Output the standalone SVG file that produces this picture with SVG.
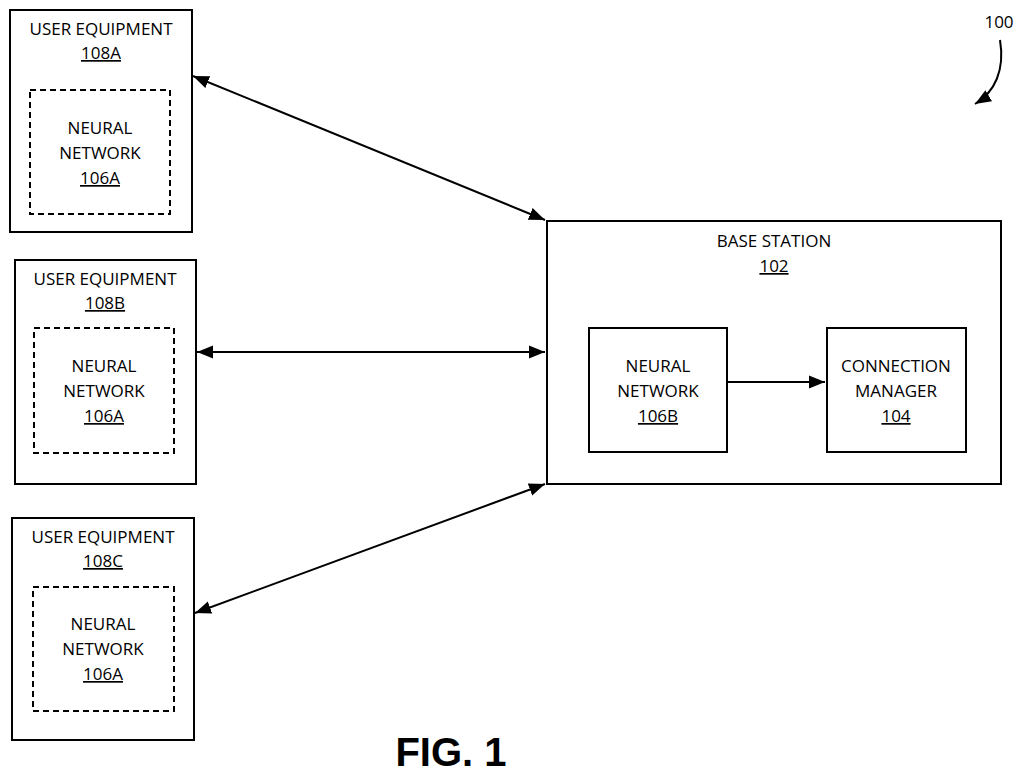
<svg xmlns="http://www.w3.org/2000/svg" width="1024" height="776" viewBox="0 0 1024 776">
<style>
.b{fill:#fff;stroke:#000;stroke-width:2}
.d{fill:none;stroke:#000;stroke-width:2;stroke-dasharray:6,4}
text{font-family:"Open Sans","Liberation Sans",sans-serif;font-size:17px;text-anchor:middle;fill:#000}
.u{text-decoration:underline}
.c{stroke:#000;stroke-width:2;fill:none}
</style>
<defs>
<marker id="a" viewBox="0 0 10 10" refX="10" refY="5" markerWidth="8" markerHeight="8" orient="auto-start-reverse"><path d="M0,1L10,5L0,9z" fill="#000"/></marker>
</defs>
<rect width="1024" height="776" fill="#fff"/>
<g id="ue108A"><rect class="b" x="10" y="10" width="182" height="222"/><text x="101" y="35">USER EQUIPMENT</text><text x="101" y="59" class="u">108A</text>
<rect class="d" x="30" y="90" width="140" height="124"/><text x="100" y="134">NEURAL</text><text x="100" y="159">NETWORK</text><text x="100" y="184" class="u">106A</text></g>
<g id="ue108B"><rect class="b" x="15" y="260" width="181" height="224"/><text x="105" y="285">USER EQUIPMENT</text><text x="105" y="309" class="u">108B</text>
<rect class="d" x="34" y="328" width="140" height="125"/><text x="104" y="372">NEURAL</text><text x="104" y="397">NETWORK</text><text x="104" y="422" class="u">106A</text></g>
<g id="ue108C"><rect class="b" x="12" y="518" width="182" height="222"/><text x="103" y="543">USER EQUIPMENT</text><text x="103" y="567" class="u">108C</text>
<rect class="d" x="33" y="587" width="141" height="124"/><text x="103" y="630">NEURAL</text><text x="103" y="655">NETWORK</text><text x="103" y="680" class="u">106A</text></g>
<g id="bs102"><rect class="b" x="547" y="221" width="454" height="263"/><text x="774" y="247">BASE STATION</text><text x="774" y="272" class="u">102</text></g>
<g id="nn106B"><rect class="b" x="589" y="328" width="138" height="124"/><text x="658" y="372">NEURAL</text><text x="658" y="397">NETWORK</text><text x="658" y="422" class="u">106B</text></g>
<g id="cm104"><rect class="b" x="827" y="328" width="139" height="124"/><text x="896" y="372">CONNECTION</text><text x="896" y="397">MANAGER</text><text x="896" y="422" class="u">104</text></g>
<g id="connectors">
<line class="c" x1="193" y1="76" x2="545" y2="220" marker-start="url(#a)" marker-end="url(#a)"/>
<line class="c" x1="197" y1="352" x2="545" y2="352" marker-start="url(#a)" marker-end="url(#a)"/>
<line class="c" x1="545" y1="484" x2="195" y2="613" marker-start="url(#a)" marker-end="url(#a)"/>
<line class="c" x1="727" y1="382" x2="825" y2="382" marker-end="url(#a)"/>
<path class="c" d="M1000,40 C1005,70 995,92 975,104" marker-end="url(#a)"/>
</g>
<text x="999" y="28">100</text>
<text x="451" y="766" style="font-family:'Liberation Sans',Arial,sans-serif;font-weight:bold;font-size:40px">FIG. 1</text>
</svg>
